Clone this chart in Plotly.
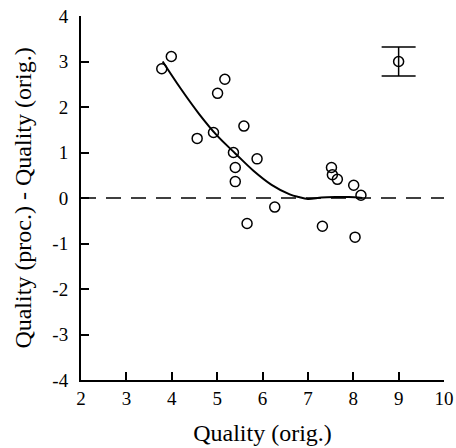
import plotly.graph_objects as go

# Data
q_orig = [3.78, 3.99, 4.56, 4.92, 5.01, 5.17, 5.36, 5.40, 5.40, 5.59, 5.66, 5.88,
          6.27, 7.32, 7.52, 7.54, 7.65, 8.01, 8.04, 8.17]
q_diff = [2.84, 3.11, 1.31, 1.44, 2.30, 2.61, 1.00, 0.67, 0.36, 1.58, -0.56, 0.86,
          -0.20, -0.62, 0.67, 0.51, 0.41, 0.28, -0.86, 0.06]

fit_x = [3.8, 4.2, 4.6, 5.0, 5.4, 5.8, 6.2, 6.6, 6.8, 7.0, 7.3, 7.6, 7.9, 8.2]
fit_y = [3.00, 2.40, 1.85, 1.37, 0.98, 0.60, 0.29, 0.08, 0.02, -0.02, 0.01, 0.02, 0.02, 0.0]

err_x = [9.0]
err_y = [3.0]
err_size = [0.32]

x_ticks = [2, 3, 4, 5, 6, 7, 8, 9, 10]
y_ticks = [-4, -3, -2, -1, 0, 1, 2, 3, 4]
y_tick_text = ["-4", "-3", "-2", "-1", "0", "1", "2", "3", "4"]

FONT = "Liberation Serif"

fig = go.Figure()

fig.add_hline(y=0, line=dict(color="black", width=1.5, dash="15px,10px"), layer="below")

fig.add_trace(go.Scatter(x=fit_x, y=fit_y, mode="lines",
                         line=dict(color="black", width=2, shape="spline"),
                         showlegend=False, hoverinfo="skip"))

fig.add_trace(go.Scatter(x=q_orig, y=q_diff, mode="markers",
                         marker=dict(symbol="circle-open", size=10, color="black",
                                     line=dict(width=1.5, color="black")),
                         showlegend=False))

fig.add_trace(go.Scatter(x=err_x, y=err_y, mode="markers",
                         marker=dict(symbol="circle-open", size=10, color="black",
                                     line=dict(width=1.5, color="black")),
                         error_y=dict(type="data", array=err_size, visible=True,
                                      color="black", thickness=1.5, width=17),
                         showlegend=False))

fig.update_layout(
    width=456, height=448,
    margin=dict(l=81, r=12, t=16, b=68),
    paper_bgcolor="white", plot_bgcolor="white",
    font=dict(family=FONT, color="black", size=19),
    showlegend=False,
)

fig.update_xaxes(
    range=[2, 10], tickvals=x_ticks, ticks="inside", ticklen=8, tickwidth=2,
    tickcolor="black", showline=True, linecolor="black", linewidth=2,
    showgrid=False, zeroline=False, mirror=False, automargin=False,
    ticklabeloverflow="allow",
    tickfont=dict(family=FONT, size=19),
    title=dict(text="Quality (orig.)", font=dict(family=FONT, size=24), standoff=16),
)
fig.update_yaxes(
    range=[-4, 4], tickvals=y_ticks, ticktext=y_tick_text, ticks="inside",
    ticklen=8, tickwidth=2, tickcolor="black", showline=True, linecolor="black",
    linewidth=2, showgrid=False, zeroline=False, mirror=False, automargin=False,
    ticklabelstandoff=7, ticklabeloverflow="allow",
    tickfont=dict(family=FONT, size=19),
    title=dict(text="Quality (proc.) - Quality (orig.)", font=dict(family=FONT, size=24), standoff=14),
)

# remove the default page margin so the 456x448 figure fills the window exactly
fig.write_html("out.html",
               config={"displayModeBar": False, "staticPlot": True},
               post_script="document.body.style.margin='0';document.body.style.overflow='hidden';")
